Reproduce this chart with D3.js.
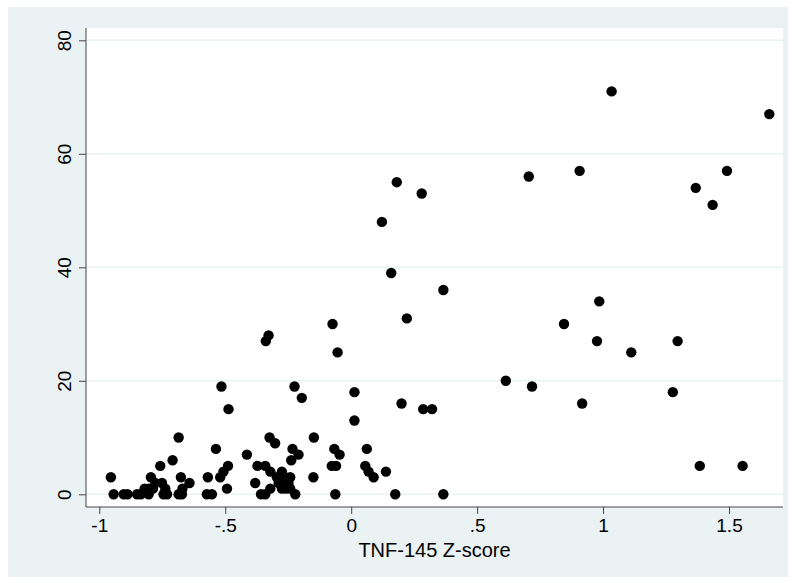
<!DOCTYPE html>
<html>
<head>
<meta charset="utf-8">
<script src="https://cdn.jsdelivr.net/npm/d3@7"></script>
<style>
  body { margin: 0; background: #ffffff; }
  text { font-family: "Liberation Sans", Arial, sans-serif; }
</style>
</head>
<body>
<div id="scatter"></div>
<script>
// Data: TNF-145 Z-score (x) against outcome (y)
var zScore = [
  -0.954, -0.943, -0.903, -0.888, -0.850, -0.835, -0.820, -0.804, -0.804, -0.795,
  -0.787, -0.778, -0.758, -0.751, -0.745, -0.738, -0.731, -0.709, -0.685, -0.685,
  -0.676, -0.670, -0.672, -0.642, -0.573, -0.569, -0.553, -0.537, -0.520, -0.507,
  -0.489, -0.493, -0.487, -0.515,
  -0.414, -0.381, -0.372, -0.358, -0.341, -0.341, -0.339, -0.328, -0.324, -0.321,
  -0.321, -0.302, -0.295, -0.288, -0.282, -0.275, -0.275, -0.269, -0.262, -0.258,
  -0.249, -0.242, -0.242, -0.238, -0.233, -0.225, -0.222, -0.209, -0.196, -0.148,
  -0.150,
  -0.074, -0.054, -0.067, -0.046, -0.077, -0.060, -0.063, 0.013, 0.013, 0.056,
  0.062, 0.069, 0.089, 0.122, 0.138, 0.159, 0.175, 0.181, 0.200, 0.221,
  0.280, 0.286, 0.321, 0.366, 0.366,
  0.614, 0.705, 0.718, 0.845, 0.907, 0.917, 0.976, 0.985, 1.034, 1.112,
  1.277, 1.296, 1.368, 1.384, 1.435, 1.492, 1.554, 1.660
];
var outcome = [
  3, 0, 0, 0, 0, 0, 1, 0, 1, 3,
  1, 2, 5, 2, 0, 1, 0, 6, 10, 0,
  3, 1, 0, 2, 0, 3, 0, 8, 3, 4,
  5, 1, 15, 19,
  7, 2, 5, 0, 5, 0, 27, 28, 10, 4,
  1, 9, 3, 2, 3, 4, 1, 2, 3, 1,
  2, 3, 1, 6, 8, 19, 0, 7, 17, 10,
  3,
  30, 25, 8, 7, 5, 5, 0, 18, 13, 5,
  8, 4, 3, 48, 4, 39, 0, 55, 16, 31,
  53, 15, 15, 36, 0,
  20, 56, 19, 30, 57, 16, 27, 34, 71, 25,
  18, 27, 54, 5, 51, 57, 5, 67
];
var xTicks = [-1, -0.5, 0, 0.5, 1, 1.5];
var xTickLabels = ["-1", "-.5", "0", ".5", "1", "1.5"];
var yTicks = [0, 20, 40, 60, 80];
var xTitle = "TNF-145 Z-score";

var points = zScore.map((z, i) => ({ x: z, y: outcome[i] }));

// SVG size and plot region
var svgWidth = 793;
var svgHeight = 583;
var plot = { left: 86, right: 783, top: 28, bottom: 507 };

var svg = d3.select("#scatter")
    .append("svg")
    .attr("width", svgWidth)
    .attr("height", svgHeight);

// light bluish graph region
svg.append("rect")
    .attr("x", 8).attr("y", 7)
    .attr("width", 780).attr("height", 570)
    .attr("fill", "#eaf2f3");

// white plot region
svg.append("rect")
    .attr("x", plot.left).attr("y", plot.top)
    .attr("width", plot.right - plot.left)
    .attr("height", plot.bottom - plot.top)
    .attr("fill", "#ffffff");

// scales
var xScale = d3.scaleLinear().domain([-1, 1.5]).range([99.3, 729]);
var yScale = d3.scaleLinear().domain([0, 80]).range([494.3, 40.3]);

// horizontal grid lines
svg.append("g")
    .selectAll("line")
    .data(yTicks)
    .enter()
    .append("line")
    .attr("x1", plot.left + 1)
    .attr("x2", plot.right)
    .attr("y1", d => yScale(d))
    .attr("y2", d => yScale(d))
    .attr("stroke", "#eaf2f3")
    .attr("stroke-width", 1.5);

// axes
var bottomAxis = d3.axisBottom(xScale)
    .tickValues(xTicks)
    .tickSize(7)
    .tickPadding(5)
    .tickFormat((d, i) => xTickLabels[i]);

var leftAxis = d3.axisLeft(yScale)
    .tickValues(yTicks)
    .tickSize(7)
    .tickFormat(d => d);

var gx = svg.append("g")
    .attr("transform", `translate(0, ${plot.bottom})`)
    .call(bottomAxis);
gx.select(".domain").remove();
gx.selectAll("line").attr("stroke", "#444");
gx.selectAll("text")
    .attr("font-size", "19px")
    .attr("fill", "#000")
    .attr("font-family", "Liberation Sans, Arial, sans-serif");

var gy = svg.append("g")
    .attr("transform", `translate(${plot.left}, 0)`)
    .call(leftAxis);
gy.select(".domain").remove();
gy.selectAll("line").attr("stroke", "#444");
gy.selectAll("text")
    .attr("x", null).attr("dy", null)
    .attr("transform", "translate(-15, 0) rotate(-90)")
    .attr("text-anchor", "middle")
    .attr("font-size", "19px")
    .attr("fill", "#000")
    .attr("font-family", "Liberation Sans, Arial, sans-serif");

// axis lines
svg.append("line")
    .attr("x1", plot.left).attr("x2", plot.left)
    .attr("y1", plot.top).attr("y2", plot.bottom)
    .attr("stroke", "#444").attr("stroke-width", 1);
svg.append("line")
    .attr("x1", plot.left).attr("x2", plot.right)
    .attr("y1", plot.bottom).attr("y2", plot.bottom)
    .attr("stroke", "#444").attr("stroke-width", 1);

// axis title
svg.append("text")
    .attr("x", (plot.left + plot.right) / 2)
    .attr("y", 557)
    .attr("text-anchor", "middle")
    .attr("font-size", "20px")
    .attr("fill", "#000")
    .text(xTitle);

// markers
svg.append("g")
    .selectAll("circle")
    .data(points)
    .enter()
    .append("circle")
    .attr("cx", d => xScale(d.x))
    .attr("cy", d => yScale(d.y))
    .attr("r", 5.2)
    .attr("fill", "#000");
</script>
</body>
</html>
